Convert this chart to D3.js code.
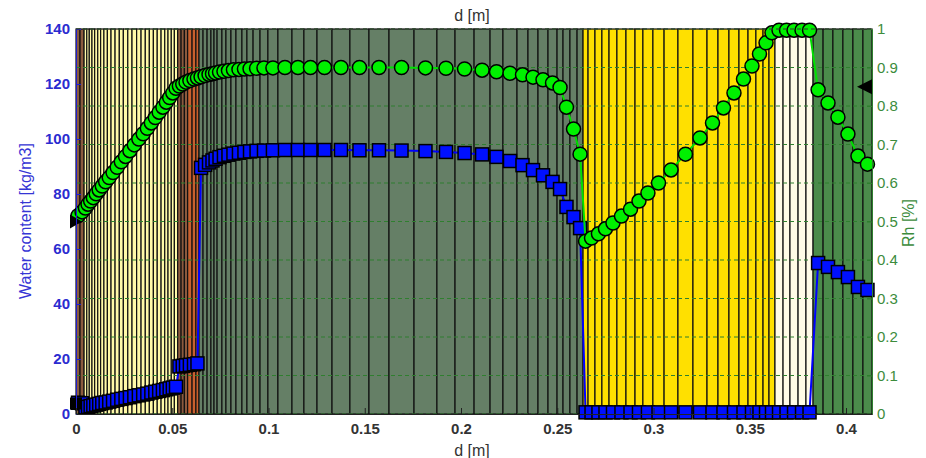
<!DOCTYPE html>
<html>
<head>
<meta charset="utf-8">
<script src="https://cdn.jsdelivr.net/npm/d3@7"></script>
<style>
  body { margin: 0; background: #fff; }
  text { font-family: Arial, "Liberation Sans", Helvetica, sans-serif; }
</style>
</head>
<body>
<svg id="chart" width="926" height="458"></svg>
<script>
// mesh nodes along the wall, d [m] (cell boundaries)
var meshEdges = [
  0, 0.0021, 0.0042,
  0.0056, 0.0069, 0.0083, 0.0097, 0.0113, 0.0128, 0.0145, 0.0163, 0.0182, 0.0203,
  0.0225, 0.0246, 0.0269, 0.0291, 0.0315, 0.0338, 0.0360, 0.0381, 0.0402, 0.0422,
  0.0442, 0.0461, 0.0478, 0.0495, 0.0511, 0.0528,
  0.0546, 0.0563, 0.0580, 0.0603, 0.0623, 0.0639,
  0.0660, 0.0681, 0.0701, 0.0717, 0.0733, 0.0758, 0.0779, 0.0805, 0.0831, 0.0862,
  0.0888, 0.0920, 0.0956, 0.0997, 0.1049, 0.1122, 0.1184, 0.1252, 0.1330, 0.1423,
  0.1522, 0.1626, 0.1756, 0.1875, 0.1969, 0.2068, 0.2151, 0.2218, 0.2291, 0.2348,
  0.2400, 0.2452, 0.2499, 0.2530, 0.2566, 0.2603, 0.2634,
  0.2660, 0.2696, 0.2732, 0.2769, 0.2810, 0.2857, 0.2904, 0.2945, 0.2997, 0.3055,
  0.3127, 0.3205, 0.3278, 0.3335, 0.3392, 0.3444, 0.3491, 0.3532, 0.3569, 0.3600, 0.3631,
  0.3673, 0.3709, 0.3751, 0.3792, 0.3829,
  0.3881, 0.3932, 0.3984, 0.4036, 0.4088, 0.4135
];

// material layers
var layerEdges = [0, 0.0042, 0.0528, 0.0580, 0.0639, 0.2634, 0.3631, 0.3829, 0.4135];
var layerColors = ["#8b5a3e", "#fff9a8", "#8b5a3e", "#c8602e", "#657f66", "#ffe000", "#fffbe6", "#4b8b4b"];

// relative humidity per cell [-]
var rhValues = [
  0.515, 0.525,
  0.535, 0.545, 0.553, 0.562, 0.572, 0.582, 0.592, 0.603, 0.614, 0.627, 0.641, 0.655, 0.669,
  0.684, 0.699, 0.714, 0.728, 0.742, 0.756, 0.770, 0.784, 0.797, 0.810, 0.822, 0.834, 0.846,
  0.852, 0.857, 0.862, 0.866, 0.870, 0.873,
  0.876, 0.879, 0.882, 0.884, 0.886, 0.888, 0.890, 0.892, 0.894, 0.895, 0.896, 0.897, 0.898,
  0.899, 0.899, 0.900, 0.900, 0.900, 0.900, 0.900, 0.900, 0.900, 0.900, 0.899, 0.898, 0.896,
  0.893, 0.889, 0.885, 0.881, 0.875, 0.868, 0.860, 0.848, 0.797, 0.740, 0.675,
  0.449, 0.457, 0.468, 0.481, 0.496, 0.514, 0.532, 0.553, 0.574, 0.600, 0.634, 0.675, 0.717,
  0.756, 0.795, 0.834, 0.870, 0.904, 0.935, 0.964, 0.990,
  0.997, 0.997, 0.997, 0.997, 0.997,
  0.842, 0.808, 0.771, 0.727, 0.670, 0.649
];

// water content per cell [kg/m3]
var wValues = [
  4.1, 3.9,
  2.4, 2.6, 2.9, 3.1, 3.4, 3.7, 4.0, 4.2, 4.5, 4.8, 5.2, 5.5, 5.8,
  6.1, 6.5, 6.8, 7.1, 7.4, 7.8, 8.1, 8.4, 8.7, 9.0, 9.3, 9.6, 9.9,
  17.3, 17.5, 17.7, 17.9, 18.1, 18.4,
  89.5, 90.6, 91.5, 92.2, 92.8, 93.4, 93.9, 94.3, 94.7, 95.0, 95.3, 95.5, 95.7,
  95.8, 95.9, 96.0, 96.0, 96.0, 96.0, 96.0, 95.9, 95.9, 95.8, 95.6, 95.3, 94.9,
  94.4, 93.5, 92.0, 90.5, 88.7, 86.8, 84.4, 81.8, 75.3, 71.6, 67.6,
  0.6, 0.6, 0.6, 0.6, 0.6, 0.6, 0.6, 0.6, 0.6, 0.6, 0.6, 0.6, 0.6,
  0.6, 0.6, 0.6, 0.6, 0.6, 0.6, 0.6, 0.6,
  0.6, 0.6, 0.6, 0.6, 0.6,
  54.9, 53.5, 51.6, 49.8, 46.2, 45.1
];

// boundary conditions
var bcLeftRh = 0.50, bcRightRh = 0.85, bcLeftW = 3.8;

var xTicks = [0, 0.05, 0.1, 0.15, 0.2, 0.25, 0.3, 0.35, 0.4];
var wTicks = [0, 20, 40, 60, 80, 100, 120, 140];
var rhTicks = [0, 0.1, 0.2, 0.3, 0.4, 0.5, 0.6, 0.7, 0.8, 0.9, 1];

var svg = d3.select("#chart");
var pLeft = 76, pRight = 872, pTop = 29, pBottom = 414;

var x = d3.scaleLinear().domain([0, 0.4135]).range([pLeft, pRight]);
var yW = d3.scaleLinear().domain([0, 140]).range([pBottom, pTop]);
var yRh = d3.scaleLinear().domain([0, 1]).range([pBottom, pTop]);

var cells = d3.pairs(meshEdges).map(function(p, i) {
  var mid = (p[0] + p[1]) / 2;
  var layer = d3.bisectRight(layerEdges, mid) - 1;
  return {x0: p[0], x1: p[1], mid: mid, layer: layer, rh: rhValues[i], w: wValues[i]};
});

// cells (material patches with black edges)
svg.append("g").selectAll("rect").data(cells).enter().append("rect")
  .attr("x", function(d) { return x(d.x0); })
  .attr("y", pTop)
  .attr("width", function(d) { return x(d.x1) - x(d.x0); })
  .attr("height", pBottom - pTop)
  .attr("fill", function(d) { return layerColors[d.layer]; })
  .attr("stroke", "#111")
  .attr("stroke-width", 1.2);

// dashed grid of the Rh axis
svg.append("g").selectAll("line").data(rhTicks).enter().append("line")
  .attr("x1", pLeft).attr("x2", pRight)
  .attr("y1", function(d) { return yRh(d); })
  .attr("y2", function(d) { return yRh(d); })
  .attr("stroke", "#2f7f2f")
  .attr("stroke-width", 1)
  .attr("stroke-dasharray", "4,3");

// water content
var lineW = d3.line().x(function(d) { return x(d.mid); }).y(function(d) { return yW(d.w); });
svg.append("path").datum(cells)
  .attr("d", lineW)
  .attr("fill", "none")
  .attr("stroke", "#0000ff")
  .attr("stroke-width", 2);

var sq = 13;
svg.append("g").selectAll("rect").data(cells).enter().append("rect")
  .attr("x", function(d) { return x(d.mid) - sq / 2; })
  .attr("y", function(d) { return yW(d.w) - sq / 2; })
  .attr("width", sq).attr("height", sq)
  .attr("fill", "#0010ff")
  .attr("stroke", "#000")
  .attr("stroke-width", 1.5);

svg.append("rect")
  .attr("x", x(0) - 6).attr("y", yW(bcLeftW) - 6)
  .attr("width", 12).attr("height", 12)
  .attr("fill", "#000");

// relative humidity
var lineRh = d3.line().x(function(d) { return x(d.mid); }).y(function(d) { return yRh(d.rh); });
svg.append("path").datum(cells)
  .attr("d", lineRh)
  .attr("fill", "none")
  .attr("stroke", "#00e000")
  .attr("stroke-width", 2);

svg.append("g").selectAll("circle").data(cells).enter().append("circle")
  .attr("cx", function(d) { return x(d.mid); })
  .attr("cy", function(d) { return yRh(d.rh); })
  .attr("r", 7)
  .attr("fill", "#00f000")
  .attr("stroke", "#000")
  .attr("stroke-width", 1.5);

// boundary markers
var bx = x(0), by = yRh(bcLeftRh);
svg.append("path")
  .attr("d", "M" + (bx + 6) + "," + by + "L" + (bx - 6) + "," + (by - 7) + "L" + (bx - 6) + "," + (by + 7) + "Z")
  .attr("fill", "#000");
var rx = x(0.4135), ry = yRh(bcRightRh);
svg.append("path")
  .attr("d", "M" + (rx - 15) + "," + ry + "L" + rx + "," + (ry - 7.5) + "L" + rx + "," + (ry + 7.5) + "Z")
  .attr("fill", "#000");

// axes
var axL = svg.append("g").attr("transform", "translate(" + pLeft + ",0)")
  .call(d3.axisLeft(yW).tickValues(wTicks).tickSizeInner(-5).tickSizeOuter(0).tickPadding(6));
axL.select(".domain").attr("stroke", "#2020d0");
axL.selectAll(".tick line").attr("stroke", "#2020d0");
axL.selectAll("text").attr("fill", "#2b2bd0").attr("font-size", 15).attr("font-weight", "bold");

var axR = svg.append("g").attr("transform", "translate(" + pRight + ",0)")
  .call(d3.axisRight(yRh).tickValues(rhTicks).tickSizeInner(-5).tickSizeOuter(0).tickPadding(5)
    .tickFormat(function(d) { return d3.format("~g")(d); }));
axR.select(".domain").attr("stroke", "#2f7f2f");
axR.selectAll(".tick line").attr("stroke", "#2f7f2f");
axR.selectAll("text").attr("fill", "#3c8c3c").attr("font-size", 15);

var axB = svg.append("g").attr("transform", "translate(0," + pBottom + ")")
  .call(d3.axisBottom(x).tickValues(xTicks).tickSizeInner(-6).tickSizeOuter(0).tickPadding(9)
    .tickFormat(function(d) { return d3.format("~g")(d); }));
axB.select(".domain").attr("stroke", "#222");
axB.selectAll(".tick line").attr("stroke", "#222");
axB.selectAll("text").attr("fill", "#333").attr("font-size", 15).attr("font-weight", "bold");

svg.append("line")
  .attr("x1", pLeft).attr("x2", pRight).attr("y1", pTop).attr("y2", pTop)
  .attr("stroke", "#333").attr("stroke-width", 1).attr("stroke-dasharray", "4,3");

// labels
svg.append("text").attr("x", 472).attr("y", 21).attr("text-anchor", "middle")
  .attr("font-size", 16).attr("fill", "#333").text("d [m]");
svg.append("text").attr("x", 472).attr("y", 456).attr("text-anchor", "middle")
  .attr("font-size", 16).attr("fill", "#333").text("d [m]");
svg.append("text").attr("transform", "translate(31,221) rotate(-90)").attr("text-anchor", "middle")
  .attr("font-size", 16).attr("fill", "#3535d5").text("Water content [kg/m3]");
svg.append("text").attr("transform", "translate(914,223) rotate(-90)").attr("text-anchor", "middle")
  .attr("font-size", 16).attr("fill", "#3c8c3c").text("Rh [%]");
</script>
</body>
</html>
